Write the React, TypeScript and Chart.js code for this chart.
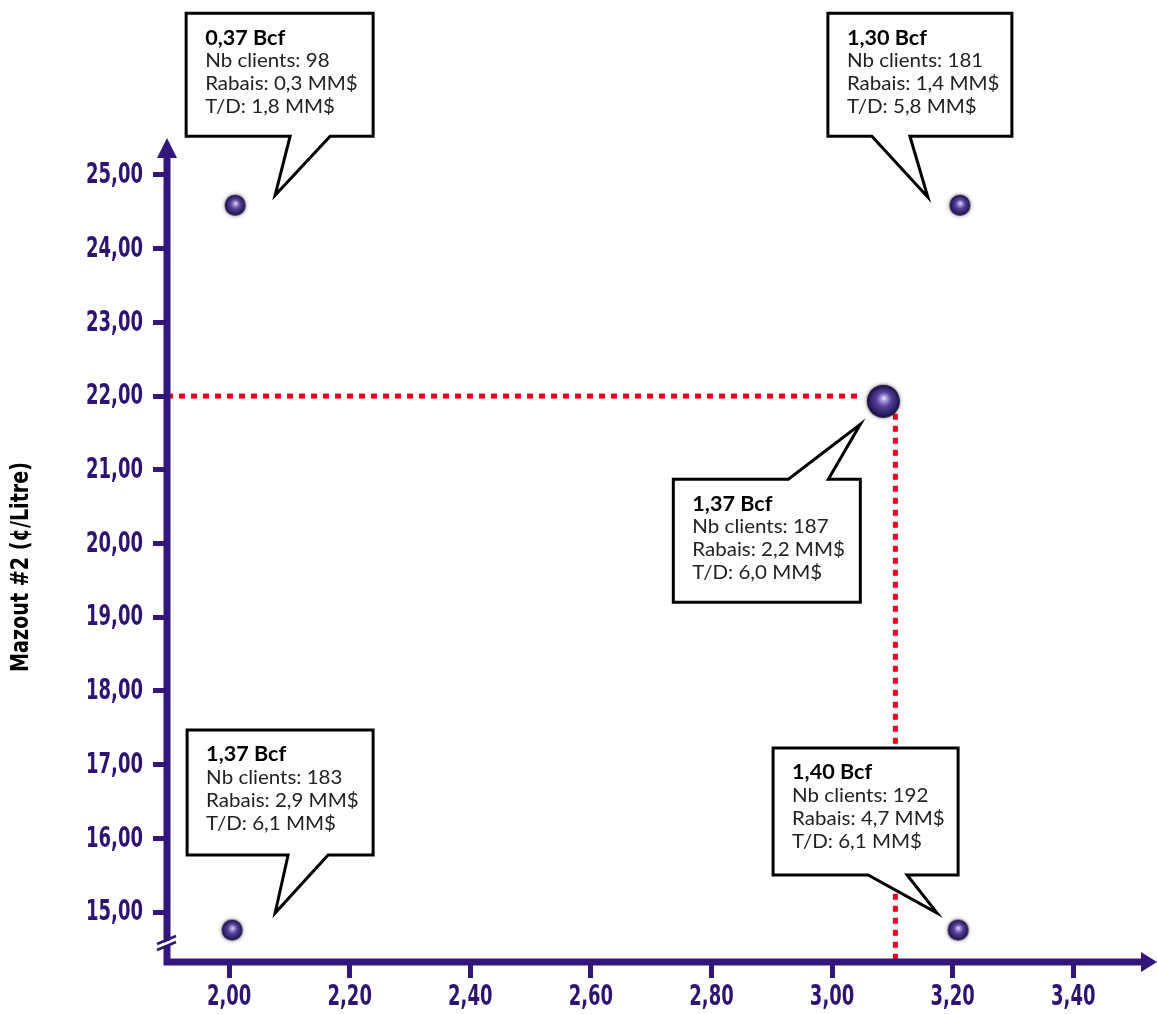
import React, { useEffect, useRef } from "react";
import { Chart, registerables } from "chart.js";

Chart.register(...registerables);

// ---- data ----
const pointX = [2.01, 3.212, 3.085, 2.005, 3.209];
const pointY = [24.59, 24.59, 21.93, 14.756, 14.756];
const bcf = ["0,37", "1,30", "1,37", "1,37", "1,40"];
const nbClients = [98, 181, 187, 183, 192];
const rabais = ["0,3", "1,4", "2,2", "2,9", "4,7"];
const td = ["1,8", "5,8", "6,0", "6,1", "6,1"];
const bigPoint = [false, false, true, false, false];

const xTicks = [2.0, 2.2, 2.4, 2.6, 2.8, 3.0, 3.2, 3.4];
const yTicks = [15, 16, 17, 18, 19, 20, 21, 22, 23, 24, 25];
const xMin = 1.897;
const xMax = 3.514;
const yMin = 14.322;
const yMax = 25.244;

const hGuideX = [xMin, 3.05];
const hGuideY = [22, 22];
const vGuideX = [3.105, 3.105];
const vGuideY = [21.76, yMin];

const yTitle = "Mazout #2 (¢/Litre)";

// ---- style ----
const PURPLE = "#34157a";
const LABEL = "#2e1470";
const RED = "#e8001c";
const CONDENSED = 'bold 28px "DejaVu Sans", sans-serif';

// callout geometry relative to point pixel: box offset, size, tail side, tail base, tail tip
const calloutLayout = [
  { dx: -49, dy: -192, w: 187, h: 123, side: "bottom", b1: 55, b2: 95, tx: 40, ty: -10 },
  { dx: -132, dy: -192, w: 184, h: 123, side: "bottom", b1: -88, b2: -50, tx: -32, ty: -8 },
  { dx: -210, dy: 78, w: 187, h: 123, side: "top", b1: -95, b2: -55, tx: -23, ty: 23 },
  { dx: -45, dy: -200, w: 186, h: 125, side: "bottom", b1: 56, b2: 96, tx: 43, ty: -17 },
  { dx: -185, dy: -182, w: 185, h: 127, side: "bottom", b1: -90, b2: -51, tx: -21, ty: -17 },
];

const fmt = (v: number) => v.toFixed(2).replace(".", ",");

function makeSphere(d: number): HTMLCanvasElement {
  const s = d + 10;
  const c = document.createElement("canvas");
  c.width = s;
  c.height = s;
  const ctx = c.getContext("2d")!;
  const cx = s / 2;
  const cy = s / 2;
  const r = d / 2;
  ctx.save();
  ctx.shadowColor = "rgba(20,10,40,0.55)";
  ctx.shadowBlur = 4;
  const g = ctx.createRadialGradient(cx + r * 0.05, cy - r * 0.2, 0, cx, cy, r);
  g.addColorStop(0, "#f4f0ff");
  g.addColorStop(0.15, "#b0a2e0");
  g.addColorStop(0.45, "#54439a");
  g.addColorStop(0.8, "#32226a");
  g.addColorStop(1, "#140a32");
  ctx.fillStyle = g;
  ctx.beginPath();
  ctx.arc(cx, cy, r, 0, Math.PI * 2);
  ctx.fill();
  ctx.restore();
  return c;
}

// draw text squeezed horizontally to a given width ratio
function squeezedText(ctx: CanvasRenderingContext2D, text: string, x: number, y: number, sx: number, align: CanvasTextAlign) {
  ctx.save();
  ctx.translate(x, y);
  ctx.scale(sx, 1);
  ctx.textAlign = align;
  ctx.fillText(text, 0, 0);
  ctx.restore();
}

const decorPlugin = {
  id: "decor",
  afterDatasetsDraw(chart: any) {
    const ctx = chart.ctx as CanvasRenderingContext2D;
    const { left, right, top, bottom } = chart.chartArea;
    ctx.save();
    // axes
    ctx.strokeStyle = PURPLE;
    ctx.fillStyle = PURPLE;
    ctx.lineWidth = 7;
    ctx.lineCap = "butt";
    ctx.beginPath();
    ctx.moveTo(left, top);
    ctx.lineTo(left, bottom + 3.5);
    ctx.moveTo(left - 3.5, bottom);
    ctx.lineTo(right, bottom);
    ctx.stroke();
    // arrows
    ctx.beginPath();
    ctx.moveTo(left - 10, top + 1);
    ctx.lineTo(left + 10, top + 1);
    ctx.lineTo(left, top - 19);
    ctx.closePath();
    ctx.fill();
    ctx.beginPath();
    ctx.moveTo(right - 1, bottom - 10);
    ctx.lineTo(right - 1, bottom + 10);
    ctx.lineTo(right + 15, bottom);
    ctx.closePath();
    ctx.fill();
    // axis break
    const by = bottom - 22;
    ctx.fillStyle = "#ffffff";
    ctx.beginPath();
    ctx.moveTo(left - 6, by + 4);
    ctx.lineTo(left + 6, by - 1);
    ctx.lineTo(left + 6, by + 4);
    ctx.lineTo(left - 6, by + 9);
    ctx.closePath();
    ctx.fill();
    ctx.strokeStyle = PURPLE;
    ctx.lineWidth = 2.5;
    ctx.beginPath();
    ctx.moveTo(left - 10, by + 4);
    ctx.lineTo(left + 9, by - 4);
    ctx.moveTo(left - 10, by + 10);
    ctx.lineTo(left + 9, by + 2);
    ctx.stroke();

    // tick labels (condensed bold)
    ctx.font = CONDENSED;
    ctx.fillStyle = LABEL;
    ctx.textBaseline = "middle";
    const refW = ctx.measureText("25,00").width;
    const sx = 57 / refW;
    const xs = chart.scales.x;
    const ys = chart.scales.y;
    xTicks.forEach((v) => {
      squeezedText(ctx, fmt(v), xs.getPixelForValue(v), bottom + 36, sx, "center");
    });
    yTicks.forEach((v) => {
      squeezedText(ctx, fmt(v), left - 24, ys.getPixelForValue(v) + 1, sx, "right");
    });

    // y title
    ctx.save();
    ctx.translate(22, 567);
    ctx.rotate(-Math.PI / 2);
    ctx.fillStyle = "#000";
    ctx.font = 'bold 24px "DejaVu Sans", sans-serif';
    ctx.textBaseline = "middle";
    const tw = ctx.measureText(yTitle).width;
    squeezedText(ctx, yTitle, 0, 0, 210 / tw, "center");
    ctx.restore();

    // callouts
    const meta = chart.getDatasetMeta(0);
    meta.data.forEach((el: any, i: number) => {
      const L = calloutLayout[i];
      const px = el.x;
      const py = el.y;
      const bl = px + L.dx;
      const bt = py + L.dy;
      const br = bl + L.w;
      const bb = bt + L.h;
      const tipX = px + L.tx;
      const tipY = py + L.ty;
      ctx.beginPath();
      if (L.side === "bottom") {
        ctx.moveTo(bl, bt);
        ctx.lineTo(br, bt);
        ctx.lineTo(br, bb);
        ctx.lineTo(px + L.b2, bb);
        ctx.lineTo(tipX, tipY);
        ctx.lineTo(px + L.b1, bb);
        ctx.lineTo(bl, bb);
      } else {
        ctx.moveTo(bl, bt);
        ctx.lineTo(px + L.b1, bt);
        ctx.lineTo(tipX, tipY);
        ctx.lineTo(px + L.b2, bt);
        ctx.lineTo(br, bt);
        ctx.lineTo(br, bb);
        ctx.lineTo(bl, bb);
      }
      ctx.closePath();
      ctx.fillStyle = "#fff";
      ctx.fill();
      ctx.lineWidth = 3;
      ctx.lineJoin = "miter";
      ctx.strokeStyle = "#000";
      ctx.stroke();

      ctx.textBaseline = "middle";
      ctx.fillStyle = "#000";
      ctx.font = 'bold 20px Lato, "Open Sans", sans-serif';
      squeezedText(ctx, bcf[i] + " Bcf", bl + 19, bt + 25, 1.08, "left");
      ctx.fillStyle = "#222";
      ctx.font = '19px Lato, "Open Sans", sans-serif';
      squeezedText(ctx, "Nb clients: " + nbClients[i], bl + 19, bt + 48, 1.08, "left");
      squeezedText(ctx, "Rabais: " + rabais[i] + " MM$", bl + 19, bt + 71, 1.08, "left");
      squeezedText(ctx, "T/D: " + td[i] + " MM$", bl + 19, bt + 94, 1.08, "left");
    });
    ctx.restore();
  },
};

export default function App() {
  const ref = useRef<HTMLCanvasElement | null>(null);
  useEffect(() => {
    if (!ref.current) return;
    const small = makeSphere(21);
    const big = makeSphere(33);
    const chart = new Chart(ref.current, {
      type: "scatter",
      data: {
        datasets: [
          {
            data: pointX.map((x, i) => ({ x, y: pointY[i] })),
            pointStyle: bigPoint.map((b) => (b ? big : small)) as any,
            pointRadius: 12,
            order: 0,
          },
          {
            data: hGuideX.map((x, i) => ({ x, y: hGuideY[i] })),
            showLine: true,
            borderColor: RED,
            borderWidth: 5,
            borderDash: [6, 6],
            pointRadius: 0,
            order: 1,
          },
          {
            data: vGuideX.map((x, i) => ({ x, y: vGuideY[i] })),
            showLine: true,
            borderColor: RED,
            borderWidth: 5,
            borderDash: [6, 6],
            pointRadius: 0,
            order: 1,
          },
        ],
      },
      options: {
        responsive: false,
        devicePixelRatio: 1,
        animation: false,
        events: [],
        layout: { padding: { top: 157, right: 15, left: 0, bottom: 0 } },
        plugins: { legend: { display: false }, tooltip: { enabled: false } },
        scales: {
          x: {
            type: "linear",
            min: xMin,
            max: xMax,
            afterBuildTicks: (s: any) => {
              s.ticks = xTicks.map((v) => ({ value: v }));
            },
            afterFit: (s: any) => {
              s.height = 52;
            },
            border: { display: false },
            grid: {
              drawOnChartArea: false,
              drawTicks: true,
              tickLength: 16,
              tickWidth: 5,
              tickColor: PURPLE,
            },
            ticks: { display: false },
          },
          y: {
            type: "linear",
            min: yMin,
            max: yMax,
            afterBuildTicks: (s: any) => {
              s.ticks = yTicks.map((v) => ({ value: v }));
            },
            afterFit: (s: any) => {
              s.width = 167;
            },
            border: { display: false },
            grid: {
              drawOnChartArea: false,
              drawTicks: true,
              tickLength: 14,
              tickWidth: 5,
              tickColor: PURPLE,
            },
            ticks: { display: false },
          },
        },
      },
      plugins: [decorPlugin],
    });
    return () => chart.destroy();
  }, []);
  return (
    <div style={{ position: "fixed", left: 0, top: 0, width: 1157, height: 1014, background: "#fff" }}>
      <canvas ref={ref} width={1157} height={1014} />
    </div>
  );
}
